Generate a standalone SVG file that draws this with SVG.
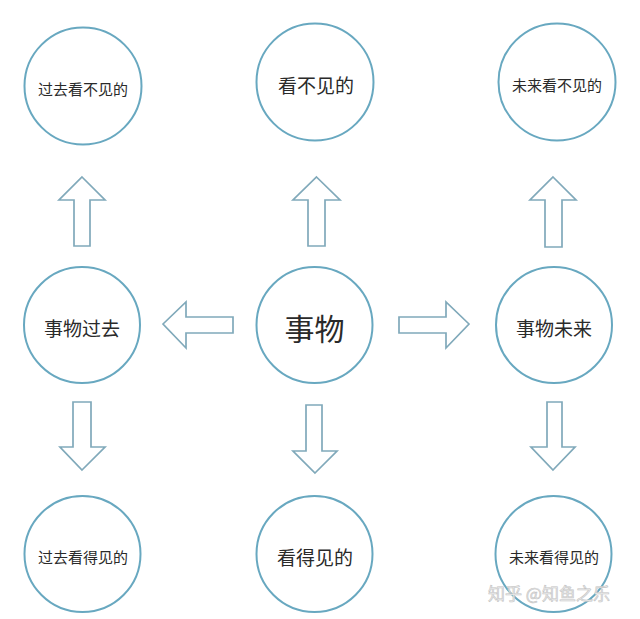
<svg xmlns="http://www.w3.org/2000/svg" width="640" height="619" viewBox="0 0 640 619">
<style>
.n{fill:#fff;stroke:#68a8c0;stroke-width:2}
.a{fill:#fff;stroke:#80a9ba;stroke-width:1.7;stroke-linejoin:miter}
text{font-family:"Noto Sans CJK SC","Noto Sans",sans-serif;fill:#2a2a2a;text-anchor:middle;dominant-baseline:central}
.s{font-size:15px}.m{font-size:19px}.l{font-size:30px}
.w{font-size:17px;fill:#ececec;stroke:#c4c4c4;stroke-width:0.6;text-anchor:start}
</style>
<rect width="640" height="619" fill="#fff"/>
<g id="n-past-invisible"><circle class="n" cx="83" cy="86" r="58.5"/><text class="s" x="83" y="88">过去看不见的</text></g>
<g id="n-invisible"><circle class="n" cx="315" cy="82" r="58.5"/><text class="m" x="316" y="84">看不见的</text></g>
<g id="n-future-invisible"><circle class="n" cx="557" cy="82" r="58.5"/><text class="s" x="557" y="84">未来看不见的</text></g>
<g id="n-past"><circle class="n" cx="82" cy="325" r="58"/><text class="m" x="82" y="327">事物过去</text></g>
<g id="n-thing"><circle class="n" cx="314.5" cy="325" r="58"/><text class="l" x="314.5" y="327">事物</text></g>
<g id="n-future"><circle class="n" cx="554" cy="325" r="58"/><text class="m" x="554" y="327">事物未来</text></g>
<g id="n-past-visible"><circle class="n" cx="82.5" cy="554" r="58"/><text class="s" x="83" y="556">过去看得见的</text></g>
<g id="n-visible"><circle class="n" cx="314.5" cy="554" r="58"/><text class="m" x="315" y="556">看得见的</text></g>
<g id="n-future-visible"><circle class="n" cx="553.5" cy="554" r="58"/><text class="s" x="554" y="556">未来看得见的</text></g>
<g id="connectors">
<polygon class="a" points="82,177 105,200 90,200 90,246 74,246 74,200 59,200"/>
<polygon class="a" points="316.5,177 340,200 325,200 325,246 308,246 308,200 293,200"/>
<polygon class="a" points="553,177 576,200 562,200 562,247 545,247 545,200 530,200"/>
<polygon class="a" points="163,324 186,302 186,317 233,317 233,333 186,333 186,348"/>
<polygon class="a" points="469,324 446,302 446,317 399,317 399,333 446,333 446,348"/>
<polygon class="a" points="82,470 105,447 91,447 91,402 73,402 73,447 60,447"/>
<polygon class="a" points="315,473 337,451 322,451 322,405 306,405 306,451 293,451"/>
<polygon class="a" points="553,470 575,447 562,447 562,402 547,402 547,447 531,447"/>
</g>
<text class="w" x="488" y="592">知乎 @知鱼之乐</text>
</svg>
